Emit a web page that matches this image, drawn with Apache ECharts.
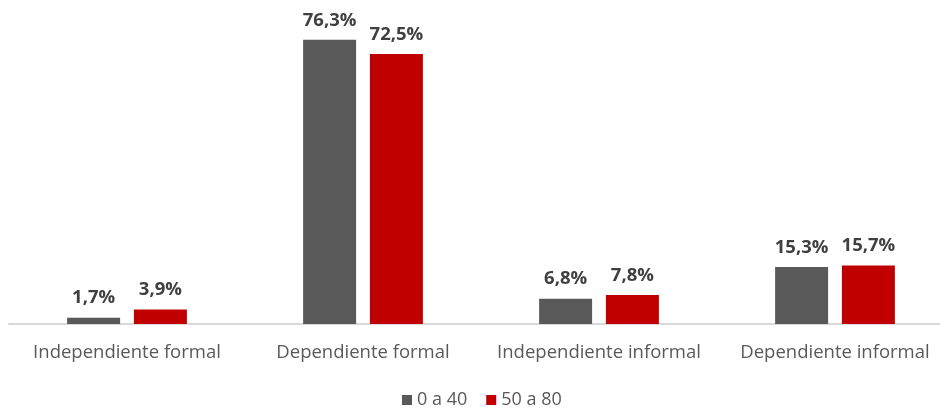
<!DOCTYPE html>
<html><head><meta charset="utf-8">
<script src="https://cdn.jsdelivr.net/npm/echarts@6/dist/echarts.min.js"></script>
<style>html,body{margin:0;padding:0;background:#fff;overflow:hidden}#c{width:953px;height:409px}</style>
</head><body><div id="c"></div>
<script>
const categories = ['Independiente formal', 'Dependiente formal', 'Independiente informal', 'Dependiente informal'];
const seriesNames = ['0 a 40', '50 a 80'];
const values0a40 = [1.7, 76.3, 6.8, 15.3];
const values50a80 = [3.9, 72.5, 7.8, 15.7];
const colors = ['#595959', '#C00000'];

const chart = echarts.init(document.getElementById('c'));
const fmt = p => p.value.toFixed(1).replace('.', ',') + '%';
const mk = (name, data, color) => ({
  name, type: 'bar', data, barWidth: 53, barGap: '26%',
  itemStyle: { color },
  label: { show: true, position: 'top', distance: 10, formatter: fmt,
    fontFamily: 'Open Sans', fontWeight: 'bold', fontSize: 18.5, color: '#404040' }
});
chart.setOption({
  animation: false,
  textStyle: { fontFamily: 'Open Sans' },
  grid: { left: 9, right: 0, top: 26, bottom: 85, containLabel: false },
  legend: { top: 386, left: 397, itemWidth: 10, itemHeight: 10, itemGap: 19,
    icon: 'rect', textStyle: { fontSize: 18, color: '#595959', fontFamily: 'Open Sans' },
    data: seriesNames },
  xAxis: { type: 'category', data: categories,
    axisLine: { lineStyle: { color: '#d9d9d9', width: 2 } },
    axisTick: { show: false },
    axisLabel: { interval: 0, fontSize: 18.5, color: '#595959', margin: 19, fontFamily: 'Open Sans' } },
  yAxis: { type: 'value', min: 0, max: 80, show: false, splitLine: { show: false } },
  series: [mk(seriesNames[0], values0a40, colors[0]), mk(seriesNames[1], values50a80, colors[1])]
});
</script></body></html>
